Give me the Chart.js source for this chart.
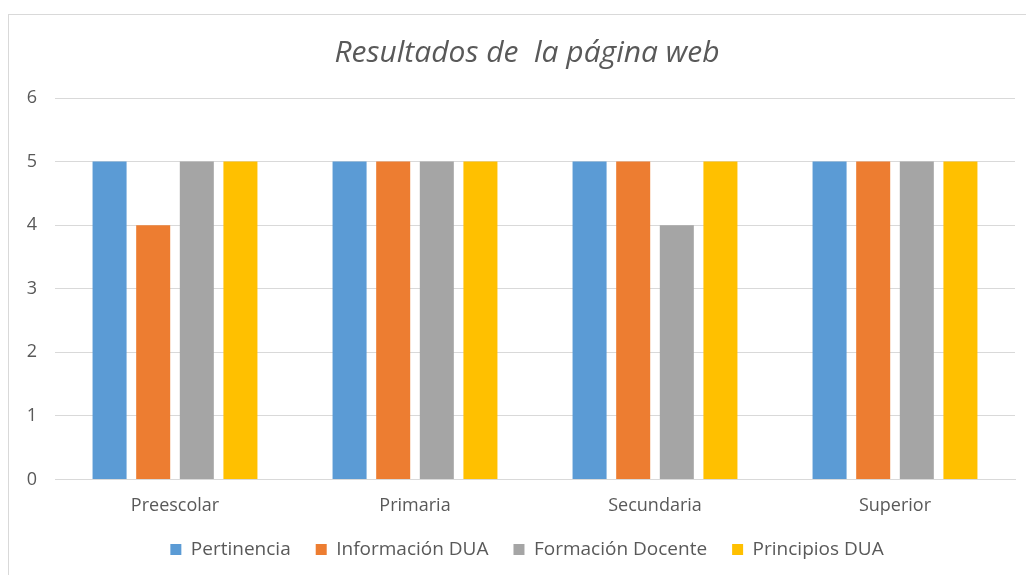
<!DOCTYPE html>
<html>
<head>
<meta charset="utf-8">
<script src="https://cdn.jsdelivr.net/npm/chart.js@4"></script>
<style>
  html, body { margin: 0; padding: 0; background: #fff; overflow: hidden; }
  #frame { position: absolute; left: 8px; top: 14px; width: 1100px; height: 700px; border: 1px solid #d9d9d9; }
  #chart { position: absolute; left: 0; top: 0; }
</style>
</head>
<body>
<div id="frame"></div>
<canvas id="chart" width="1054" height="575"></canvas>
<script>
// Data
const categories = ['Preescolar', 'Primaria', 'Secundaria', 'Superior'];
const pertinencia = [5, 5, 5, 5];
const informacionDUA = [4, 5, 5, 5];
const formacionDocente = [5, 5, 4, 5];
const principiosDUA = [5, 5, 5, 5];
const yTicks = [0, 1, 2, 3, 4, 5, 6];

const textColor = '#595959';
const gridColor = '#d9d9d9';
const fontFamily = "'Open Sans', 'Noto Sans', sans-serif";

function bar(label, data, color) {
  return { label, data, backgroundColor: color, categoryPercentage: 0.727, barPercentage: 0.78 };
}

new Chart(document.getElementById('chart').getContext('2d'), {
  type: 'bar',
  data: {
    labels: categories,
    datasets: [
      bar('Pertinencia', pertinencia, '#5b9bd5'),
      bar('Información DUA', informacionDUA, '#ed7d31'),
      bar('Formación Docente', formacionDocente, '#a5a5a5'),
      bar('Principios DUA', principiosDUA, '#ffc000')
    ]
  },
  options: {
    responsive: false,
    animation: false,
    layout: { padding: { left: 0, right: 0, top: 0, bottom: 10 } },
    plugins: {
      title: {
        display: true,
        text: 'Resultados de  la página web',
        color: textColor,
        font: { family: fontFamily, size: 30, style: 'italic', weight: 'normal', lineHeight: 1.2 },
        padding: { top: 35, bottom: 27 }
      },
      legend: {
        position: 'bottom',
        maxHeight: 50,
        labels: {
          color: textColor,
          boxWidth: 11,
          boxHeight: 11,
          padding: 25,
          font: { family: fontFamily, size: 19 }
        }
      },
      tooltip: { enabled: false }
    },
    scales: {
      x: {
        grid: { display: false, drawTicks: false },
        border: { color: gridColor },
        ticks: { color: textColor, padding: 15.2, font: { family: fontFamily, size: 18 } },
        afterFit: s => { s.height = 35.5; }
      },
      y: {
        min: 0,
        max: 6,
        afterBuildTicks: s => { s.ticks = yTicks.map(v => ({ value: v })); },
        grid: { color: gridColor, drawTicks: false },
        border: { display: false },
        ticks: { color: textColor, padding: 18, font: { family: fontFamily, size: 18 } },
        afterFit: s => { s.width = 55; }
      },
      // empty right-hand strip so the plot ends where the reference's does
      yRight: {
        type: 'linear',
        position: 'right',
        grid: { display: false, drawTicks: false },
        border: { display: false },
        ticks: { display: false },
        afterFit: s => { s.width = 39; }
      }
    }
  }
});
</script>
</body>
</html>
